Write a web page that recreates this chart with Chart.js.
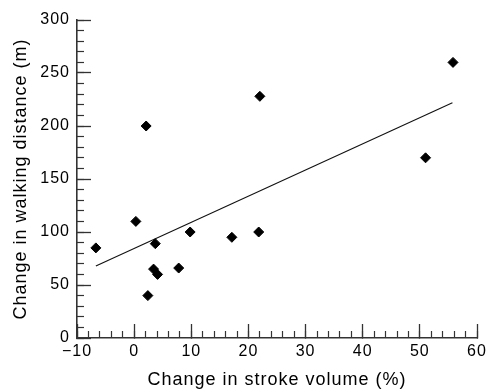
<!DOCTYPE html>
<html>
<head>
<meta charset="utf-8">
<script src="https://cdn.jsdelivr.net/npm/chart.js@4/dist/chart.umd.min.js"></script>
<style>
  html, body { margin: 0; padding: 0; background: #fff; }
  canvas { display: block; }
</style>
</head>
<body>
<canvas id="chart" width="487" height="389"></canvas>
<script>
// change in stroke volume (%) vs change in walking distance (m)
const strokeChange = [-6.7, 0.3, 2.1, 2.4, 3.4, 4.1, 3.7, 7.8, 9.8, 17.1, 22.0, 21.8, 51.0, 55.8];
const walkChange = [85, 110, 200, 40, 65, 60, 89, 66, 100, 95, 228, 100, 170, 260];

// regression line end points
const fitX = [-6.7, 55.7];
const fitY = [68, 222];

const xRange = [-10, 60];
const yRange = [0, 300];

const FONT = "'Liberation Sans', Arial, Helvetica, sans-serif";
const AXIS = '#333';

const points = strokeChange.map((x, i) => ({ x, y: walkChange[i] }));
const fitLine = fitX.map((x, i) => ({ x, y: fitY[i] }));

const minus = v => String(v).replace('-', '\u2212');

// tick padding would otherwise push the plot area inwards
const noEdgePadding = (s) => {
  s.paddingTop = 0;
  s.paddingBottom = 0;
  s.paddingLeft = 0;
  s.paddingRight = 0;
};

// wider tracking, like the original typesetting
const tracking = {
  id: 'tracking',
  beforeDraw: (chart) => {
    chart.ctx.letterSpacing = '1px';
  }
};

new Chart(document.getElementById('chart').getContext('2d'), {
  type: 'scatter',
  data: {
    datasets: [
      {
        data: points,
        pointStyle: 'rectRot',
        pointRadius: 5,
        pointBorderWidth: 1,
        backgroundColor: '#000',
        borderColor: '#000'
      },
      {
        type: 'line',
        data: fitLine,
        borderColor: '#111',
        borderWidth: 1.1,
        pointRadius: 0,
        fill: false
      }
    ]
  },
  options: {
    responsive: false,
    animation: false,
    events: [],
    layout: {
      padding: { top: 20, right: 10, bottom: 0, left: 0 }
    },
    plugins: {
      legend: { display: false },
      tooltip: { enabled: false }
    },
    scales: {
      x: {
        type: 'linear',
        position: 'bottom',
        weight: 0,
        min: xRange[0],
        max: xRange[1],
        afterFit: (s) => { s.height = 51; noEdgePadding(s); },
        grid: {
          drawOnChartArea: false,
          tickLength: -14,
          tickColor: AXIS,
          tickWidth: 1.3
        },
        border: { color: AXIS, width: 1.6 },
        ticks: {
          stepSize: 10,
          padding: 18,
          color: '#000',
          font: { family: FONT, size: 16 },
          callback: minus
        },
        title: {
          display: true,
          text: 'Change in stroke volume (%)',
          color: '#000',
          font: { family: FONT, size: 18, lineHeight: 1 },
          padding: { top: 0, bottom: 0 }
        }
      },
      xMinor: {
        type: 'linear',
        position: 'bottom',
        weight: -1,
        min: xRange[0],
        max: xRange[1],
        afterFit: (s) => { s.height = 0; noEdgePadding(s); },
        grid: {
          drawOnChartArea: false,
          tickLength: -7,
          tickColor: AXIS,
          tickWidth: 1.2
        },
        border: { display: false },
        ticks: { stepSize: 2, display: false }
      },
      y: {
        type: 'linear',
        position: 'left',
        weight: 0,
        min: yRange[0],
        max: yRange[1],
        afterFit: (s) => { s.width = 77; noEdgePadding(s); },
        grid: {
          drawOnChartArea: false,
          tickLength: -14,
          tickColor: AXIS,
          tickWidth: 1.3
        },
        border: { color: AXIS, width: 1.6 },
        ticks: {
          stepSize: 50,
          padding: 21,
          color: '#000',
          font: { family: FONT, size: 16 },
          callback: minus
        },
        title: {
          display: true,
          text: 'Change in walking distance (m)',
          color: '#000',
          font: { family: FONT, size: 18, lineHeight: 1 },
          padding: { top: 12, bottom: 0 }
        }
      },
      yMinor: {
        type: 'linear',
        position: 'left',
        weight: -1,
        min: yRange[0],
        max: yRange[1],
        afterFit: (s) => { s.width = 0; noEdgePadding(s); },
        grid: {
          drawOnChartArea: false,
          tickLength: -7,
          tickColor: AXIS,
          tickWidth: 1.2
        },
        border: { display: false },
        ticks: { stepSize: 10, display: false }
      }
    }
  },
  plugins: [tracking]
});
</script>
</body>
</html>
